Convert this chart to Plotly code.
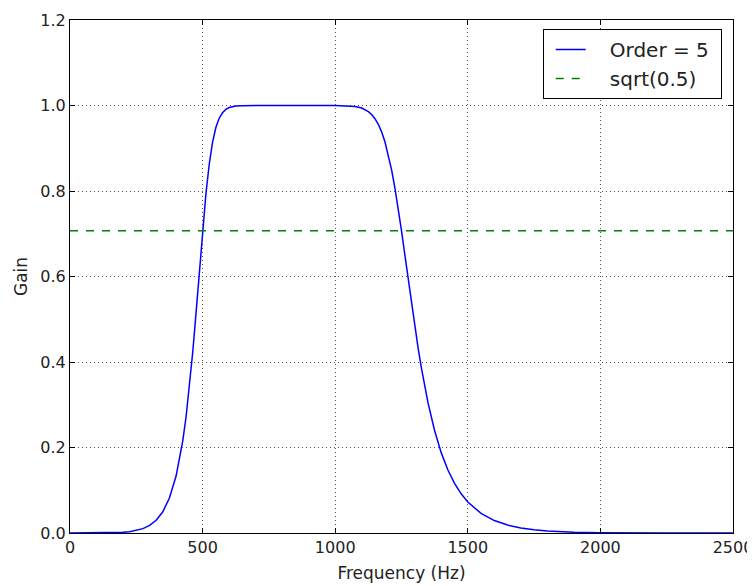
import plotly.graph_objects as go

# Frequency (Hz) and gain
freq = [0, 100, 150, 200, 225, 250, 275, 300, 325, 350, 375, 400, 425, 437.5, 450,
        462.5, 475, 487.5, 500, 512.5, 525, 537.5, 550, 562.5, 575, 587.5, 600,
        612.5, 625, 650, 700, 800, 900, 1000, 1050, 1075, 1100, 1112.5, 1125,
        1137.5, 1150, 1162.5, 1175, 1187.5, 1200, 1212.5, 1225, 1237.5, 1250,
        1262.5, 1275, 1287.5, 1300, 1312.5, 1325, 1350, 1375, 1400, 1425, 1450,
        1475, 1500, 1550, 1600, 1650, 1700, 1750, 1800, 1900, 2000, 2250, 2500]
gain = [0.0, 0.0, 0.0003, 0.0016, 0.0031, 0.0058, 0.0102, 0.0177, 0.0299, 0.0497,
        0.0817, 0.1332, 0.2147, 0.2707, 0.3396, 0.4211, 0.5125, 0.6108, 0.7071,
        0.7934, 0.8626, 0.9137, 0.9484, 0.9703, 0.9830, 0.9909, 0.9952, 0.9975,
        0.9988, 0.9997, 1.0, 1.0, 1.0, 0.9999, 0.9991, 0.9976, 0.9940, 0.9907,
        0.9858, 0.9789, 0.9692, 0.9560, 0.9384, 0.9151, 0.8859, 0.8499, 0.8076,
        0.7594, 0.7071, 0.6510, 0.5947, 0.5382, 0.4842, 0.4332, 0.3863, 0.3043,
        0.2393, 0.1874, 0.1474, 0.1160, 0.0917, 0.0726, 0.0458, 0.0291, 0.0186,
        0.0117, 0.0075, 0.0047, 0.0018, 0.0006, 0.0001, 0.0]

ref_x = [0, 2500]
sqrt_half = 0.7071

x_ticks = [0, 500, 1000, 1500, 2000, 2500]
x_labels = ["0", "500", "1000", "1500", "2000", "2500"]
y_ticks = [0.0, 0.2, 0.4, 0.6, 0.8, 1.0, 1.2]
y_labels = ["0.0", "0.2", "0.4", "0.6", "0.8", "1.0", "1.2"]

NB = "\u00a0"

fig = go.Figure()
fig.add_trace(go.Scatter(x=freq, y=gain, mode="lines",
                         name=NB * 3 + "Order = 5" + NB,
                         legendgroup="a",
                         line=dict(color="#0000ff", width=1.5)))
fig.add_trace(go.Scatter(x=ref_x, y=[sqrt_half, sqrt_half], mode="lines",
                         name=NB * 3 + "sqrt(0.5)", legendgroup="b",
                         line=dict(color="#008000", width=1.4, dash="8px,8px")))

axis_common = dict(
    showline=True, linecolor="black", linewidth=1.2, mirror="allticks",
    ticks="inside", ticklen=5, tickcolor="black", tickwidth=1,
    showgrid=True, gridcolor="#555555", gridwidth=0.8, griddash="1px,3px",
    zeroline=False, automargin=False,
    tickfont=dict(family="DejaVu Sans", size=16, color="#222222"),
)

fig.update_xaxes(range=[0, 2500], tickvals=x_ticks, ticktext=x_labels,
                 title=dict(text="Frequency (Hz)", standoff=10,
                            font=dict(family="DejaVu Sans", size=17, color="#222222")),
                 **axis_common)
fig.update_yaxes(range=[0, 1.2], tickvals=y_ticks, ticktext=y_labels,
                 title=dict(text="Gain", standoff=8,
                            font=dict(family="DejaVu Sans", size=17, color="#222222")),
                 **axis_common)

fig.update_layout(
    width=747, height=578,
    margin=dict(l=62, r=22, t=12, b=53),
    plot_bgcolor="white", paper_bgcolor="white",
    font=dict(family="DejaVu Sans", size=16, color="#222222"),
    showlegend=True,
    legend=dict(x=0.983, y=0.9825, xanchor="right", yanchor="top",
                bgcolor="white", bordercolor="black", borderwidth=1,
                font=dict(family="DejaVu Sans", size=20, color="#222222"),
                itemwidth=30, indentation=7,
                traceorder="grouped", tracegroupgap=0),
)

fig.write_html("out.html")
